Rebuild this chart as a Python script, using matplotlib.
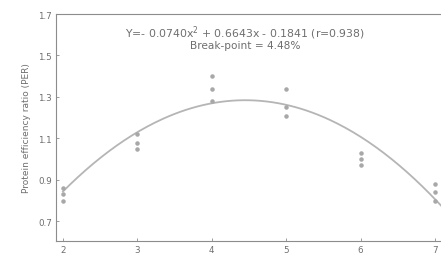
import numpy as np
import matplotlib
matplotlib.use("Agg")
import matplotlib.pyplot as plt

# replicate measurements per level
levels = [2, 2, 2, 3, 3, 3, 4, 4, 4, 5, 5, 5, 6, 6, 6, 7, 7, 7]
per = [0.86, 0.83, 0.80, 1.12, 1.08, 1.05, 1.40, 1.34, 1.28,
       1.34, 1.25, 1.21, 1.03, 1.00, 0.97, 0.88, 0.84, 0.80]

# quadratic curve as it is drawn in the figure
curve_coef = [-0.0734, 0.6532, -0.169]
yticks = [0.7, 0.9, 1.1, 1.3, 1.5, 1.7]
xticks = [2, 3, 4, 5, 6, 7]

grey = "#8c8c8c"
txt = "#6e6e6e"

fig = plt.figure(figsize=(4.41, 2.55), dpi=100)
# right edge runs just past the canvas, so the right spine is cut off
ax = fig.add_axes([0.127, 0.051, 0.883, 0.89])

xs = np.linspace(2, 7.14, 200)
ax.plot(xs, np.polyval(curve_coef, xs), color="#b5b5b5", lw=1.3)
ax.scatter(levels, per, s=5, color="#a8a8a8", marker="o", zorder=3)

ax.set_xlim(1.907, 7.14)
ax.set_ylim(0.605, 1.686)
ax.set_xticks(xticks)
ax.set_yticks(yticks)
ax.tick_params(direction="in", length=2, width=0.6, colors=grey,
               labelsize=6.3, labelcolor=txt, pad=3)
for s in ax.spines.values():
    s.set_color(grey)
    s.set_linewidth(0.8)

ax.set_ylabel("Protein efficiency ratio (PER)", fontsize=6.5, color=txt, labelpad=5)

ax.text(0.485, 0.92, "Y=- 0.0740x$^2$ + 0.6643x - 0.1841 (r=0.938)",
        transform=ax.transAxes, ha="center", va="center", fontsize=7.8, color=txt)
ax.text(0.485, 0.862, "Break-point = 4.48%",
        transform=ax.transAxes, ha="center", va="center", fontsize=7.6, color=txt)

fig.savefig("out.png", dpi=100)
